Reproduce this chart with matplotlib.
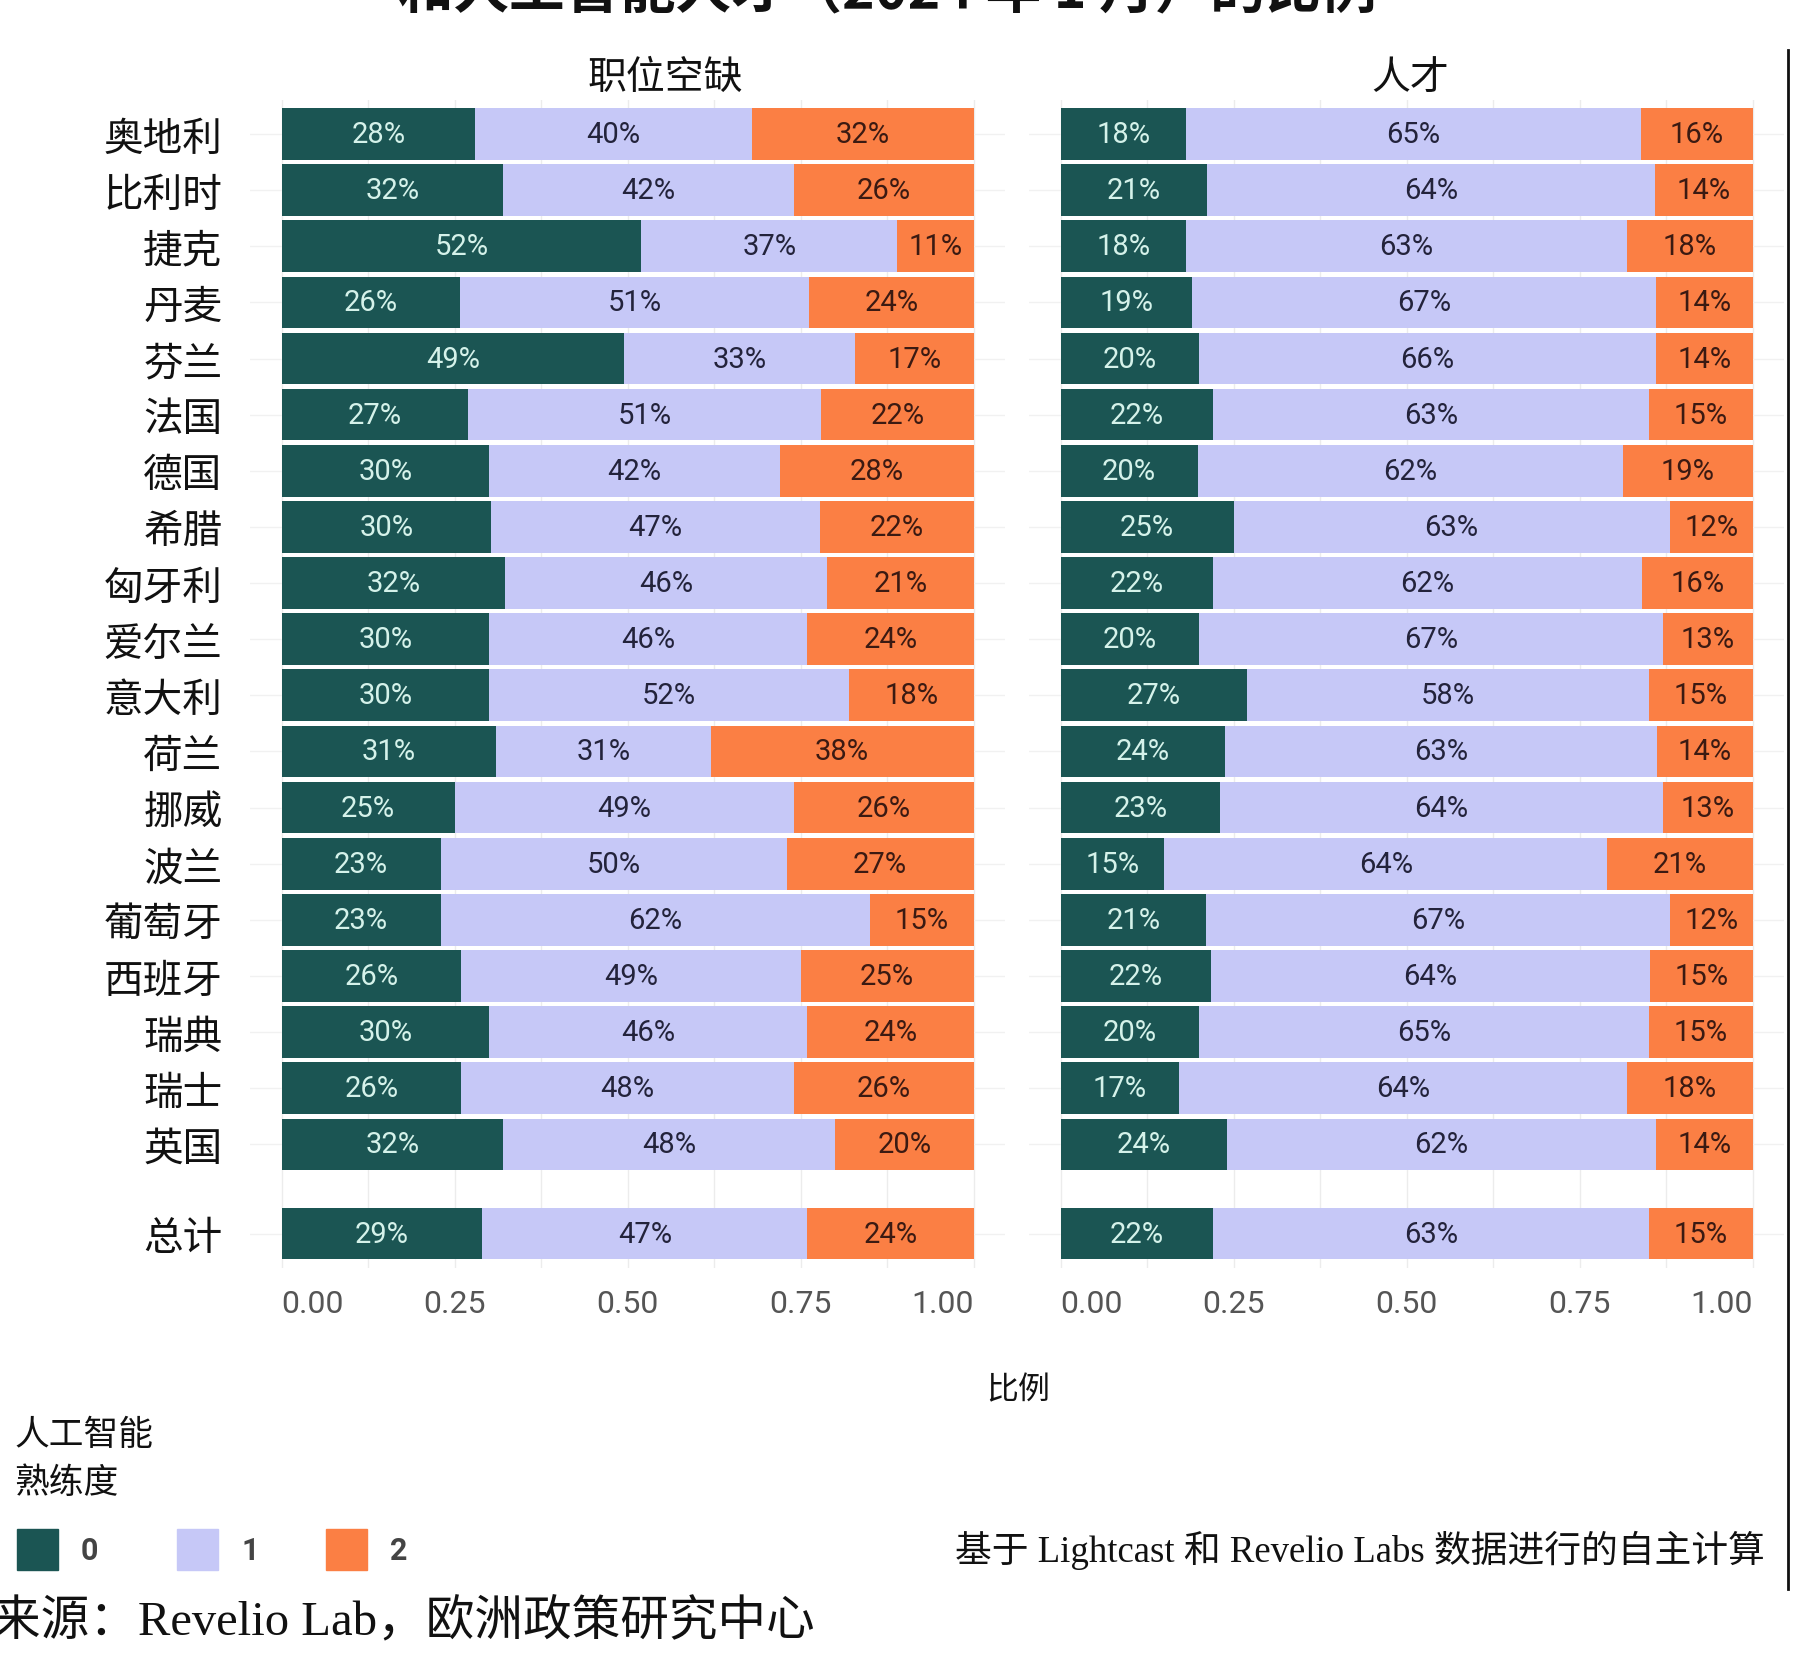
import numpy as np
import matplotlib
matplotlib.use("Agg")
import matplotlib.pyplot as plt
from matplotlib.patches import Rectangle

plt.rcParams['font.family'] = ['Noto Sans CJK SC', 'DejaVu Sans']

countries = ['奥地利', '比利时', '捷克', '丹麦', '芬兰', '法国', '德国', '希腊', '匈牙利',
             '爱尔兰', '意大利', '荷兰', '挪威', '波兰', '葡萄牙', '西班牙', '瑞典', '瑞士',
             '英国', '总计']

# 职位空缺: share at AI proficiency 0 / 1 / 2 (%)
vac_0 = [28, 32, 52, 26, 49, 27, 30, 30, 32, 30, 30, 31, 25, 23, 23, 26, 30, 26, 32, 29]
vac_1 = [40, 42, 37, 51, 33, 51, 42, 47, 46, 46, 52, 31, 49, 50, 62, 49, 46, 48, 48, 47]
vac_2 = [32, 26, 11, 24, 17, 22, 28, 22, 21, 24, 18, 38, 26, 27, 15, 25, 24, 26, 20, 24]

# 人才
tal_0 = [18, 21, 18, 19, 20, 22, 20, 25, 22, 20, 27, 24, 23, 15, 21, 22, 20, 17, 24, 22]
tal_1 = [65, 64, 63, 67, 66, 63, 62, 63, 62, 67, 58, 63, 64, 64, 67, 64, 65, 64, 62, 63]
tal_2 = [16, 14, 18, 14, 14, 15, 19, 12, 16, 13, 15, 14, 13, 21, 12, 15, 15, 18, 14, 15]

panel_titles = ['职位空缺', '人才']
level_names = ['0', '1', '2']
colors = ['#1b5553', '#c6c8f7', '#fb7f44']
text_colors = ['#d5f2ea', '#23233b', '#3b1a12']
xticks = [0, 0.25, 0.5, 0.75, 1.0]

W, H = 1794, 1656
fig = plt.figure(figsize=(W / 100, H / 100), dpi=100)

# row positions: gap before the total row
ypos = np.arange(len(countries), dtype=float)
ypos[-1] = 18 + 1.59
row_px = 56.13
top_px = 135 - 0.6 * row_px
bot_px = 135 + 20.2 * row_px
unit_px = 692.1
ax_w = 1.09 * unit_px


def draw_panel(ax, parts, show_labels):
    parts = np.array(parts, dtype=float)
    fracs = parts / parts.sum(axis=0)
    ax.set_xlim(-0.045, 1.045)
    ax.set_ylim(20.2, -0.6)
    for x in np.arange(0, 1.001, 0.125):
        ax.axvline(x, color='#ececec', lw=1.0, zorder=0)
    for y in ypos:
        ax.axhline(y, color='#f1f1f1', lw=1.0, zorder=0)
    left = np.zeros(len(countries))
    for k in range(3):
        ax.barh(ypos, fracs[k], left=left, height=0.92, color=colors[k],
                edgecolor='none', zorder=2)
        for i in range(len(countries)):
            ax.text(left[i] + fracs[k][i] / 2, ypos[i], f'{int(parts[k][i])}%',
                    ha='center', va='center', fontsize=21, color=text_colors[k],
                    family=['Roboto', 'DejaVu Sans'], zorder=3)
        left = left + fracs[k]
    ax.set_yticks(ypos)
    if show_labels:
        ax.set_yticklabels(countries, fontsize=28.5, color='#111111')
    else:
        ax.set_yticklabels([])
    ax.tick_params(axis='y', length=0, pad=20)
    ax.set_xticks(xticks)
    ax.set_xticklabels([f'{t:.2f}' for t in xticks], fontsize=23, color='#555555',
                       family=['Roboto', 'DejaVu Sans'])
    ax.tick_params(axis='x', length=0, pad=15)
    tl = ax.get_xticklabels()
    tl[0].set_ha('left')
    tl[-1].set_ha('right')
    for s in ax.spines.values():
        s.set_visible(False)


lefts = [281.5 - 0.045 * unit_px, 1060.6 - 0.045 * unit_px]
data = [[vac_0, vac_1, vac_2], [tal_0, tal_1, tal_2]]
title_x = [665, 1410]
for j in range(2):
    ax = fig.add_axes([lefts[j] / W, 1 - bot_px / H, ax_w / W, (bot_px - top_px) / H])
    draw_panel(ax, data[j], j == 0)
    fig.text(title_x[j] / W, 1 - 78 / H, panel_titles[j], ha='center', va='center',
             fontsize=28, color='#111111')

# title, cut at the top edge as in the source image
fig.text(887 / W, 1 - (-8) / H, '和人工智能人才（2024 年 1 月）的比例', ha='center', va='center',
         fontsize=40, fontweight='bold', color='#111111')

fig.text(1018 / W, 1 - 1390 / H, '比例', ha='center', va='center', fontsize=23, color='#111111')

# legend
fig.text(14 / W, 1 - 1436 / H, '人工智能', ha='left', va='center', fontsize=25, color='#111111')
fig.text(14 / W, 1 - 1484 / H, '熟练度', ha='left', va='center', fontsize=25, color='#111111')
patch_x = [17, 177, 326]
for k in range(3):
    fig.patches.append(Rectangle((patch_x[k] / W, 1 - 1571 / H), 41 / W, 41 / H,
                                 transform=fig.transFigure, color=colors[k]))
    fig.text((patch_x[k] + 64) / W, 1 - 1551 / H, level_names[k], ha='left', va='center',
             fontsize=22, fontweight='bold', color='#444444', family=['Roboto', 'DejaVu Sans'])

fig.text(1765 / W, 1 - 1550 / H, '基于 Lightcast 和 Revelio Labs 数据进行的自主计算',
         ha='right', va='center', fontsize=26.5, color='#111111',
         family=['Liberation Serif', 'Noto Sans CJK SC'])
fig.text(-8 / W, 1 - 1622 / H, '来源：Revelio Lab，欧洲政策研究中心',
         ha='left', va='center', fontsize=35, color='#111111',
         family=['Liberation Serif', 'Noto Sans CJK SC'])

# thin vertical rule at right edge
fig.add_artist(plt.Line2D([1788 / W, 1788 / W], [1 - 51 / H, 1 - 1590 / H],
                          transform=fig.transFigure, color='#111111', lw=2))

fig.savefig('out.png', dpi=100)
